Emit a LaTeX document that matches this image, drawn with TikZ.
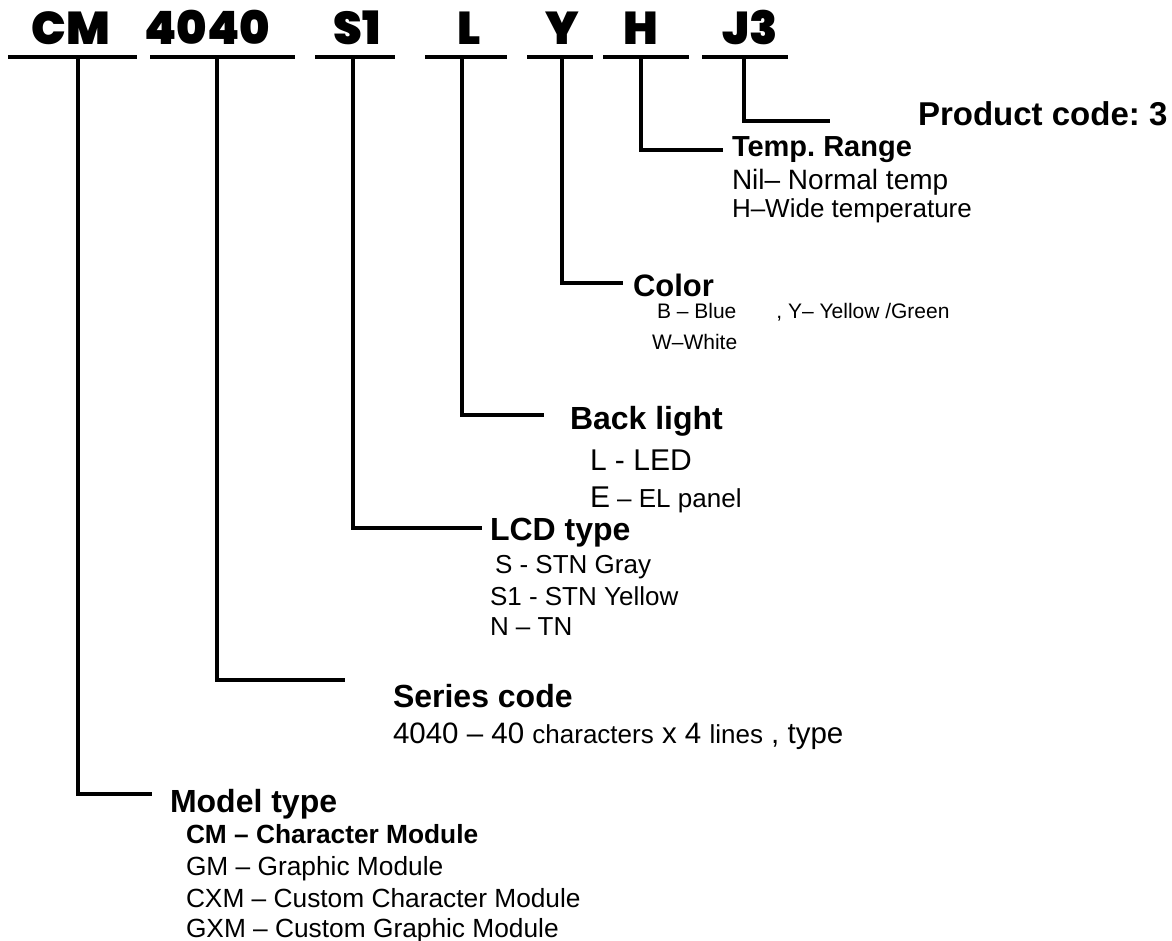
\documentclass[tikz,border=0pt]{standalone}
\usepackage{fontspec}
\setmainfont{Liberation Sans}
\IfFontExistsTF{Poppins Black}
    {\newfontfamily\codefont{Poppins Black}}
    {\newfontfamily\codefont{Lato Black}}
\usetikzlibrary{positioning}

\begin{document}
\frenchspacing
\begin{tikzpicture}[x=1pt, y=-1pt, line width=3.2pt,
    every node/.style={inner sep=0pt, outer sep=0pt},
    code/.style={font=\codefont\fontsize{46}{46}\selectfont, anchor=base},
    head/.style={font=\bfseries\fontsize{32}{36}\selectfont, anchor=base west},
    item/.style={font=\fontsize{26}{30}\selectfont, anchor=base west}]
    \useasboundingbox (0,0) rectangle (1172,941);

    % ==================== CODE LETTERS ====================
    \node[code] (cm)  at (71,45)  {CM};
    \node[code] (ser) at (207,45) {4040};
    \node[code] (lcd) at (357,45) {S1};
    \node[code] (bl)  at (469,45) {L};
    \node[code] (col) at (562,45) {Y};
    \node[code] (tmp) at (641,45) {H};
    \node[code] (prd) at (750,45) {J3};

    % underlines
    \foreach \a/\b in {8/137, 150/295, 315/395, 425/507, 527/593, 603/689, 702/788}
        \draw (\a,57) -- (\b,57);

    % ==================== LEADER LINES ====================
    \coordinate (cm-v)  at (78,57);   \coordinate (model-e)     at (152,794);
    \coordinate (ser-v) at (217,57);  \coordinate (series-e)    at (345,680);
    \coordinate (lcd-v) at (353,57);  \coordinate (lcdtype-e)   at (482,528);
    \coordinate (bl-v)  at (462,57);  \coordinate (backlight-e) at (544,415);
    \coordinate (col-v) at (562,58);  \coordinate (color-e)     at (623,283);
    \coordinate (tmp-v) at (641,57);  \coordinate (temp-e)      at (723,150);
    \coordinate (prd-v) at (744,57);  \coordinate (prodcode-e)  at (830,121);

    \draw (cm-v)  |- (model-e);
    \draw (ser-v) |- (series-e);
    \draw (lcd-v) |- (lcdtype-e);
    \draw (bl-v)  |- (backlight-e);
    \draw (col-v) |- (color-e);
    \draw (tmp-v) |- (temp-e);
    \draw (prd-v) |- (prodcode-e);

    % ==================== RIGHT: J3 / H / Y ====================
    \node[head, font=\bfseries\fontsize{33}{36}\selectfont] (prodcode) at (918,126) {Product code: 3};

    \node[head, font=\bfseries\fontsize{29}{32}\selectfont] (temprange) at (732,157) {Temp. Range};
    \node[item, font=\fontsize{28}{30}\selectfont] (temp1) at (732,190) {Nil– Normal temp};
    \node[item] (temp2) at (732,218) {H–Wide temperature};

    \node[head, font=\bfseries\fontsize{31}{36}\selectfont] (color) at (633,297) {Color};
    \node[item, font=\fontsize{21}{24}\selectfont] (color1) at (657,318) {B – Blue\hspace{40pt}, Y– Yellow /Green};
    \node[item, font=\fontsize{21}{24}\selectfont] (color2) at (652,349) {W–White};

    % ==================== MIDDLE: L / S1 ====================
    \node[head] (backlight) at (570,429) {Back light};
    \node[item, font=\fontsize{30}{34}\selectfont] (backlight1) at (590,470) {L - LED};
    \node[item] (backlight2) at (590,507) {{\fontsize{30}{34}\selectfont E} – EL panel};

    \node[head] (lcdtype) at (490,540) {LCD type};
    \node[item] (lcd1) at (495,573) {S - STN Gray};
    \node[item] (lcd2) at (490,605) {S1 - STN Yellow};
    \node[item] (lcd3) at (490,635) {N – TN};

    % ==================== LEFT: 4040 / CM ====================
    \node[head] (series) at (393,707) {Series code};
    \node[item, font=\fontsize{29.5}{34}\selectfont] (series1) at (393,743)
        {4040 – 40 {\fontsize{26}{30}\selectfont characters} x 4 {\fontsize{26}{30}\selectfont lines} , type};

    \node[head] (model) at (170,812) {Model type};
    \node[item, font=\bfseries\fontsize{26.3}{30}\selectfont] (model1) at (186,843) {CM – Character Module};
    \node[item, font=\fontsize{26.3}{30}\selectfont] (model2) at (186,875) {GM – Graphic Module};
    \node[item, font=\fontsize{26.3}{30}\selectfont] (model3) at (186,907) {CXM – Custom Character Module};
    \node[item, font=\fontsize{26.3}{30}\selectfont] (model4) at (186,937) {GXM – Custom Graphic Module};
\end{tikzpicture}
\end{document}
